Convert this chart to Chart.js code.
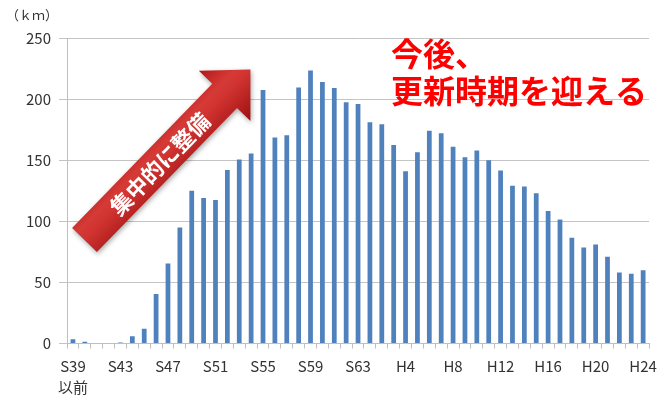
<!DOCTYPE html>
<html lang="ja">
<head>
<meta charset="utf-8">
<script src="https://cdn.jsdelivr.net/npm/chart.js@4.4.1/dist/chart.umd.min.js"></script>
<style>
  html, body { margin: 0; padding: 0; background: #fff; }
  #wrap { width: 665px; height: 401px; position: relative; }
</style>
</head>
<body>
<div id="wrap"><canvas id="myChart"></canvas></div>
<script>
// 年度（S39以前〜H24）
const years = [
  'S39', 'S40', 'S41', 'S42', 'S43', 'S44', 'S45', 'S46', 'S47', 'S48',
  'S49', 'S50', 'S51', 'S52', 'S53', 'S54', 'S55', 'S56', 'S57', 'S58',
  'S59', 'S60', 'S61', 'S62', 'S63',
  'H1', 'H2', 'H3', 'H4', 'H5', 'H6', 'H7', 'H8', 'H9', 'H10',
  'H11', 'H12', 'H13', 'H14', 'H15', 'H16', 'H17', 'H18', 'H19', 'H20',
  'H21', 'H22', 'H23', 'H24'
];

// 年度別の整備延長 (km)
const lengths = [
  3.5, 1.5, 0.5, 0.5, 0.8, 6, 12, 40.5, 65.5, 95,
  125, 119, 117.5, 142, 150.5, 155.5, 207.5, 168.5, 170.5, 209.5,
  223.5, 214, 209, 197.5, 196,
  181, 179.5, 162.5, 141, 156.5, 174, 172, 161, 152.5, 158,
  150, 141.5, 129, 128.5, 123, 108.5, 101.5, 86.5, 78.5, 81,
  71, 58, 57, 60
];

// 軸に表示する年度
const shownYears = ['S39', 'S43', 'S47', 'S51', 'S55', 'S59', 'S63', 'H4', 'H8', 'H12', 'H16', 'H20', 'H24'];
const yTicks = [0, 50, 100, 150, 200, 250];

const FONT = '"Noto Sans CJK JP", "Noto Sans", sans-serif';

// 矢印と注記
const notes = {
  id: 'notes',
  afterDatasetsDraw(chart) {
    const c = chart.ctx;

    // 単位
    c.save();
    c.fillStyle = '#333';
    c.font = '13px ' + FONT;
    c.textBaseline = 'middle';
    c.fillText('（ｋｍ）', 6, 15);
    c.restore();

    // 右肩上がりの矢印
    const ox = 84.5, oy = 240;
    const ang = Math.atan2(-170.7, 166);
    const half = 17.3, base = 201, headHalf = 36, tip = 238;
    c.save();
    c.translate(ox, oy);
    c.rotate(ang);
    c.shadowColor = 'rgba(0,0,0,0.35)';
    c.shadowBlur = 5;
    c.shadowOffsetX = 1;
    c.shadowOffsetY = 2;
    const g = c.createLinearGradient(0, -headHalf, 0, headHalf);
    g.addColorStop(0, '#b01818');
    g.addColorStop(0.35, '#d63a36');
    g.addColorStop(0.5, '#d03330');
    g.addColorStop(1, '#9c1010');
    c.fillStyle = g;
    c.beginPath();
    c.moveTo(0, -half);
    c.lineTo(base, -half);
    c.lineTo(base, -headHalf);
    c.lineTo(tip, 0);
    c.lineTo(base, headHalf);
    c.lineTo(base, half);
    c.lineTo(0, half);
    c.closePath();
    c.fill();
    c.shadowColor = 'transparent';
    c.fillStyle = '#fff';
    c.font = 'bold 22px ' + FONT;
    c.textAlign = 'center';
    c.textBaseline = 'middle';
    c.fillText('集中的に整備', 107, 1);
    c.restore();

    // 今後の見通し
    c.save();
    c.fillStyle = '#ff0000';
    c.font = 'bold 32px ' + FONT;
    c.textBaseline = 'middle';
    c.fillText('今後、', 391, 54);
    c.fillText('更新時期を迎える', 391, 91);
    c.restore();
  }
};

const ctx = document.getElementById('myChart').getContext('2d');
const myChart = new Chart(ctx, {
  type: 'bar',
  data: {
    labels: years,
    datasets: [{
      data: lengths,
      backgroundColor: '#4f81bd',
      borderWidth: 0,
      barPercentage: 0.4,
      categoryPercentage: 1.0
    }]
  },
  options: {
    responsive: true,
    maintainAspectRatio: false,
    animation: false,
    layout: { padding: { top: 38, right: 7, left: 0, bottom: 0 } },
    plugins: {
      legend: { display: false },
      tooltip: { enabled: false }
    },
    scales: {
      x: {
        grid: {
          offset: true,
          drawOnChartArea: false,
          drawTicks: true,
          tickLength: 5,
          color: '#bfbfbf'
        },
        border: { color: '#bfbfbf' },
        ticks: {
          autoSkip: false,
          maxRotation: 0,
          padding: 8,
          color: '#333',
          font: { family: FONT, size: 15, lineHeight: 1.35 },
          callback(value, index) {
            const lab = years[index];
            if (!shownYears.includes(lab)) return '';
            return index === 0 ? [lab, '以前'] : lab;
          }
        },
        afterFit(scale) { scale.height = 57.5; }
      },
      y: {
        min: 0,
        max: 250,
        afterBuildTicks(scale) { scale.ticks = yTicks.map(v => ({ value: v })); },
        grid: { color: '#c4c4c4', tickLength: 8 },
        border: { color: '#bfbfbf' },
        ticks: {
          padding: 8,
          color: '#333',
          font: { family: FONT, size: 15 }
        },
        afterFit(scale) { scale.width = 67; }
      }
    }
  },
  plugins: [notes]
});
</script>
</body>
</html>
